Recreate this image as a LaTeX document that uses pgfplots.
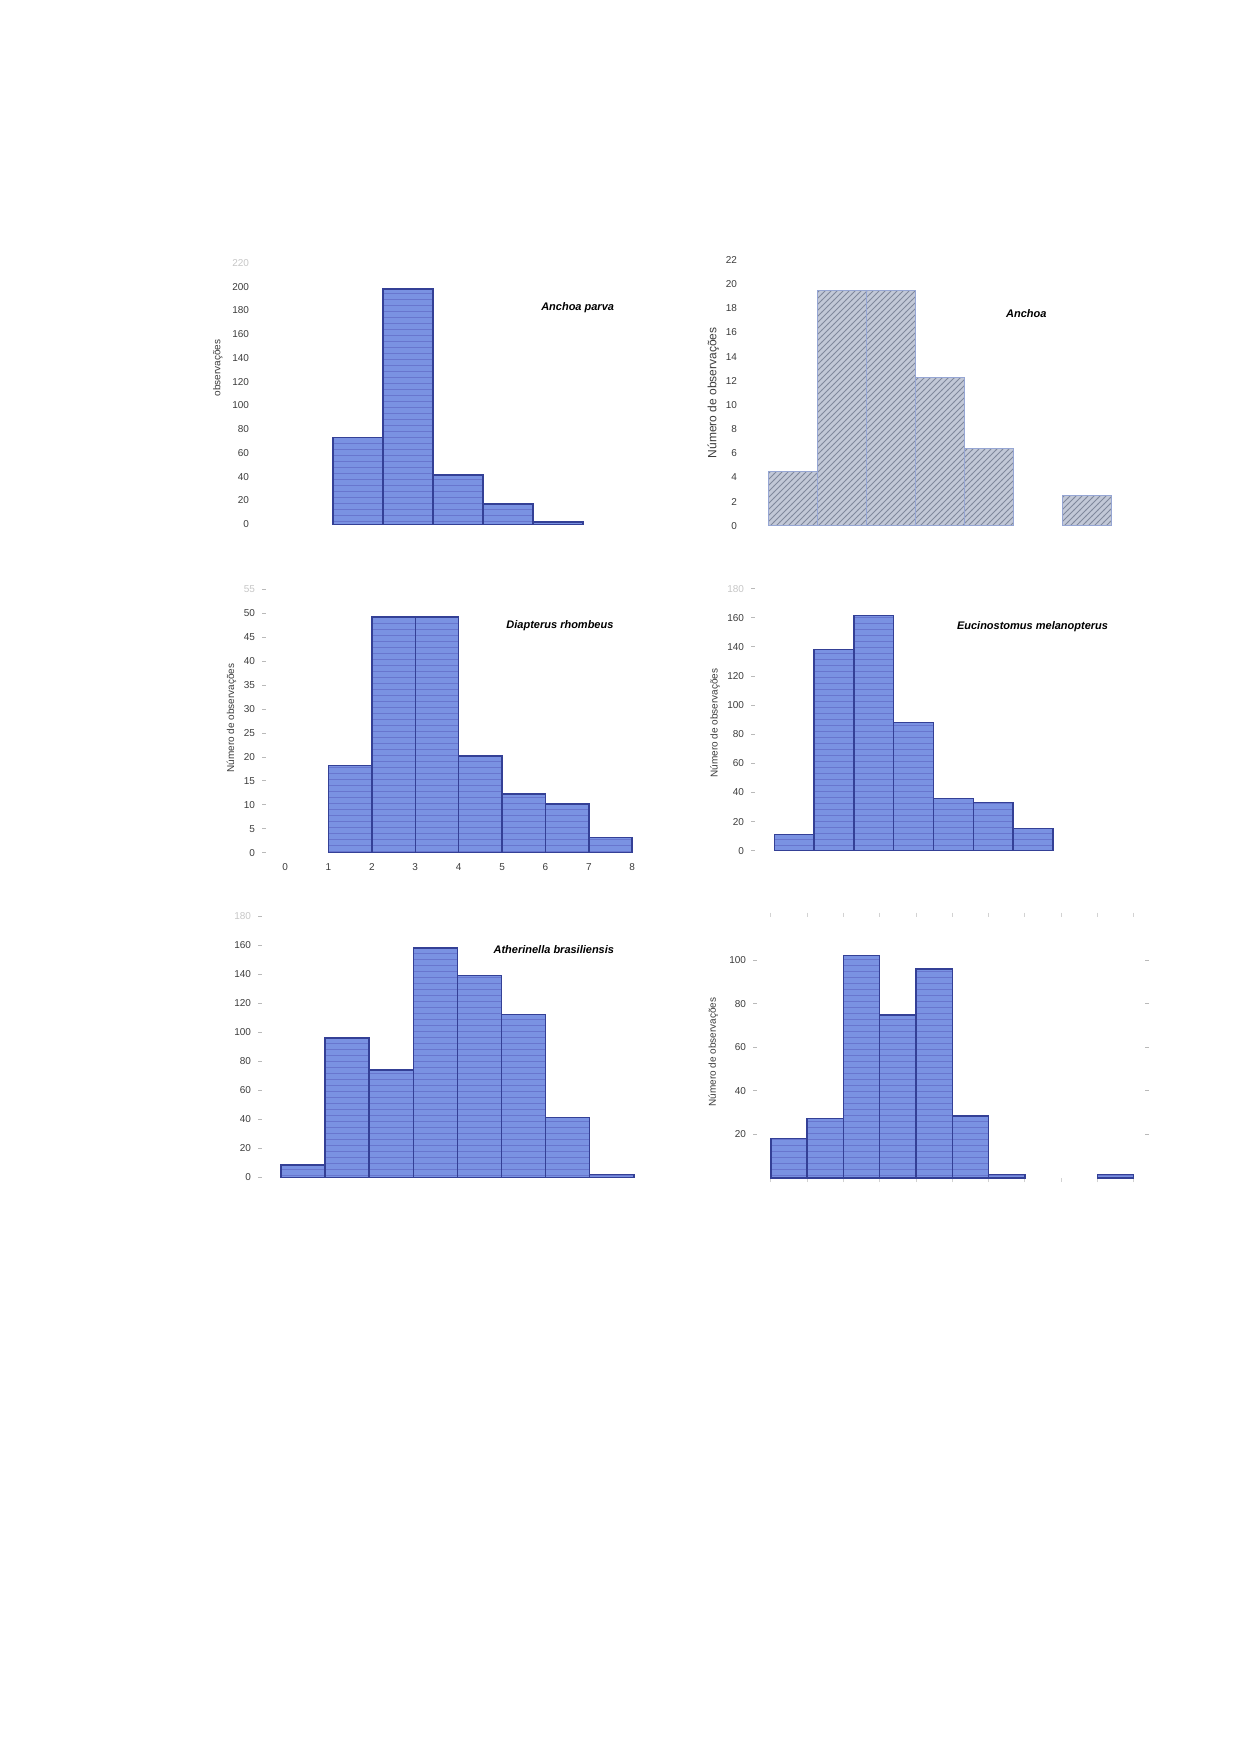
\documentclass[border=0pt]{standalone}
\usepackage{fontspec}
\setmainfont{Liberation Sans}
\usepackage{pgfplots}
\pgfplotsset{compat=1.18}
\usetikzlibrary{patterns}

\definecolor{histfill}{RGB}{122,146,226}
\definecolor{histline}{RGB}{52,64,150}
\definecolor{histstripe}{RGB}{104,118,206}
\definecolor{greyfill}{RGB}{194,200,215}
\definecolor{greystripe}{RGB}{128,136,156}
\definecolor{greyline}{RGB}{150,166,212}
\definecolor{ticktext}{RGB}{60,60,60}

\tikzset{sp/.style={font=\fontsize{5.5}{6.5}\selectfont\bfseries\itshape, anchor=center}}

\pgfplotsset{
  histo/.style={
    scale only axis, anchor=south west, clip=false,
    axis line style={draw=none},
    tick style={draw=none},
    ymin=0,
    /pgf/number format/assume math mode=true,
    ticklabel style={font=\fontsize{5}{6}\selectfont, text=ticktext},
    ylabel style={font=\fontsize{5}{6}\selectfont, text=ticktext, anchor=center},
    xtick=\empty,
    ytick pos=left, xtick pos=bottom,
  },
  faintticks/.style={
    ytick style={draw=gray!55, line width=0.4pt},
    tick align=outside, major tick length=2pt,
  },
  toplab/.style={extra y ticks={#1}, extra y tick style={yticklabel style={text=gray!45}}},
  bars/.style={ybar interval, fill=histfill, draw=histline, line width=0.7pt,
    postaction={pattern=horizontal lines, pattern color=histstripe}},
  greybars/.style={ybar interval, fill=greyfill, draw=greyline, line width=0.5pt,
    postaction={pattern=north east lines, pattern color=greystripe}},
}

\begin{document}
\begin{tikzpicture}
\path[use as bounding box] (0,0) rectangle (627.5pt,-882pt);

% Anchoa parva
\begin{axis}[histo, at={(128pt,-262.15pt)}, width=187pt, height=130.65pt,
  xmin=-0.54, xmax=6.94, ymax=220, ytick={0,20,...,200}, toplab={220},
  ylabel={observações}, ylabel style={at={(axis description cs:-0.102,0.598)}}]
\addplot[bars] coordinates {(1,73) (2,198) (3,41.5) (4,17) (5,2) (6,2)};
\node[sp] at (rel axis cs:0.86,0.828) {Anchoa parva};
\end{axis}

% Anchoa
\begin{axis}[histo, at={(372pt,-262.85pt)}, width=190.5pt, height=132.85pt,
  xmin=0.504, xmax=8.28, ymax=22, ytick={0,2,...,22},
  ylabel={Número de observações},
  ylabel style={font=\fontsize{6}{7}\selectfont, at={(axis description cs:-0.081,0.5)}}]
\addplot[greybars] coordinates {(1,4.5) (2,19.5) (3,19.5) (4,12.3) (5,6.4) (6,6.4)};
\addplot[greybars] coordinates {(7,2.5) (8,2.5)};
\node[sp] at (rel axis cs:0.741,0.80) {Anchoa};
\end{axis}

% Diapterus rhombeus
\begin{axis}[histo, faintticks, at={(133pt,-426.35pt)}, width=187pt, height=131.65pt,
  xmin=-0.44, xmax=8.18, ymax=55, ytick={0,5,...,50}, toplab={55},
  xtick={0,...,8}, xtick style={draw=none},
  ylabel={Número de observações}, ylabel style={at={(axis description cs:-0.092,0.512)}}]
\addplot[bars] coordinates {(1,18.2) (2,49.2) (3,49.2) (4,20.2) (5,12.3) (6,10.2) (7,3.2) (8,3.2)};
\node[sp] at (rel axis cs:0.786,0.861) {Diapterus rhombeus};
\end{axis}

% Eucinostomus melanopterus
\begin{axis}[histo, faintticks, at={(377.5pt,-425.35pt)}, width=185pt, height=131.05pt,
  xmin=0.515, xmax=9.81, ymax=180, ytick={0,20,...,160}, toplab={180},
  ylabel={Número de observações}, ylabel style={at={(axis description cs:-0.108,0.487)}}]
\addplot[bars] coordinates {(1,11.3) (2,138) (3,161.4) (4,88) (5,35.7) (6,33) (7,15.4) (8,15.4)};
\node[sp] at (rel axis cs:0.75,0.853) {Eucinostomus melanopterus};
\end{axis}

% Atherinella brasiliensis
\begin{axis}[histo, faintticks, at={(131pt,-588.65pt)}, width=189pt, height=130.65pt,
  xmin=-0.43, xmax=8.14, ymax=180, ytick={0,20,...,160}, toplab={180}]
\addplot[bars] coordinates {(0,8.5) (1,96) (2,74) (3,158) (4,139) (5,112) (6,41) (7,2) (8,2)};
\node[sp] at (rel axis cs:0.772,0.87) {Atherinella brasiliensis};
\end{axis}

% sexta espécie (título ilegível)
\begin{axis}[histo, faintticks, at={(378.5pt,-589pt)}, width=194pt, height=130.75pt,
  xmin=-0.38, xmax=10.31, ymax=120, ytick={20,40,...,100},
  xtick={0,...,10}, xticklabels={}, ytick pos=both, yticklabel pos=left,
  xtick pos=both, xtick style={draw=gray!35, line width=0.4pt},
  ylabel={Número de observações}, ylabel style={at={(axis description cs:-0.113,0.482)}}]
\addplot[bars] coordinates {(0,18.2) (1,27.4) (2,102) (3,74.8) (4,95.9) (5,28.5) (6,1.5) (7,1.5)};
\addplot[bars] coordinates {(9,1.5) (10,1.5)};
\end{axis}
\end{tikzpicture}
\end{document}
